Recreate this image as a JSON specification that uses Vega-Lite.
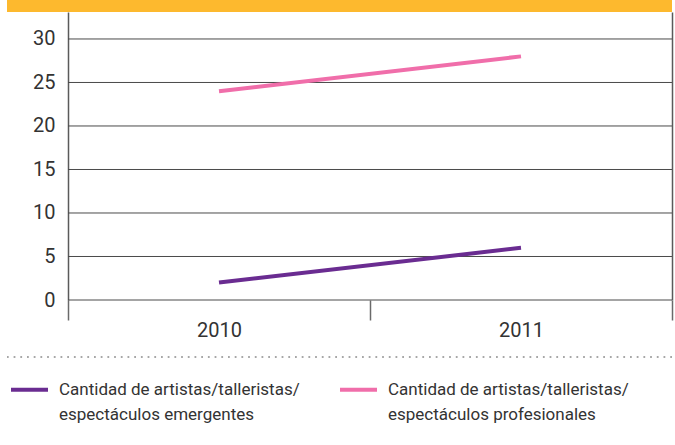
{
  "$schema": "https://vega.github.io/schema/vega-lite/v6.json",
  "width": 665,
  "height": 288,
  "autosize": {"type": "none"},
  "padding": {"left": 7, "top": 12, "right": 3, "bottom": 145},
  "background": "white",
  "config": {
    "view": {"stroke": null},
    "font": "Roboto",
    "style": {"guide-label": {"lineHeight": 25}}
  },
  "datasets": {
    "series": [
      {"year": 2010, "value": 2, "serie": "Cantidad de artistas/talleristas/espectáculos emergentes"},
      {"year": 2011, "value": 6, "serie": "Cantidad de artistas/talleristas/espectáculos emergentes"},
      {"year": 2010, "value": 24, "serie": "Cantidad de artistas/talleristas/espectáculos profesionales"},
      {"year": 2011, "value": 28, "serie": "Cantidad de artistas/talleristas/espectáculos profesionales"}
    ],
    "grid": [{"v": 0}, {"v": 5}, {"v": 10}, {"v": 15}, {"v": 20}, {"v": 25}, {"v": 30}]
  },
  "layer": [
    {
      "data": {"values": [{}]},
      "mark": {"type": "rect", "color": "#FDB92E"},
      "encoding": {
        "y": {"datum": 33.1, "type": "quantitative", "title": null},
        "y2": {"datum": 34.48}
      }
    },
    {
      "data": {"values": [{}]},
      "mark": {"type": "rule", "color": "#8a8a8a", "strokeWidth": 1.5, "strokeDash": [1.8, 4.9]},
      "encoding": {
        "y": {"datum": -6.55, "type": "quantitative", "title": null}
      }
    },
    {
      "data": {"name": "grid"},
      "mark": {"type": "rule", "color": "#4a4a4a", "strokeWidth": 1},
      "encoding": {
        "y": {"field": "v", "type": "quantitative", "title": null},
        "x": {"datum": 2009.5, "type": "quantitative", "title": null},
        "x2": {"datum": 2011.5}
      }
    },
    {
      "data": {"name": "series"},
      "mark": {"type": "line", "strokeWidth": 4},
      "encoding": {
        "x": {
          "field": "year",
          "type": "quantitative",
          "title": null,
          "scale": {"domain": [2009.298, 2011.5], "nice": false, "zero": false},
          "axis": {
            "values": [2009.5, 2010, 2010.5, 2011, 2011.5],
            "labelExpr": "datum.value == 2010 ? '2010' : (datum.value == 2011 ? '2011' : '')",
            "domain": false,
            "grid": true,
            "gridColor": "#5a5a5a",
            "gridWidth": 1.5,
            "gridOpacity": {"condition": {"test": "datum.value == 2009.5 || datum.value == 2011.5", "value": 1}, "value": 0},
            "tickSize": 20,
            "tickColor": "#6a6a6a",
            "tickWidth": 1.5,
            "tickOpacity": {"condition": {"test": "datum.value == 2010 || datum.value == 2011", "value": 0}, "value": 1},
            "labelFontSize": 20,
            "labelColor": "#333333",
            "labelPadding": 0,
            "labelFlush": false,
            "labelOverlap": false
          }
        },
        "y": {
          "field": "value",
          "type": "quantitative",
          "title": null,
          "scale": {"domain": [0, 33.1], "nice": false, "zero": false},
          "axis": {
            "values": [0, 5, 10, 15, 20, 25, 30],
            "offset": -61,
            "domain": false,
            "ticks": false,
            "grid": false,
            "labelFontSize": 20,
            "labelColor": "#333333",
            "labelPadding": 13
          }
        },
        "color": {
          "field": "serie",
          "type": "nominal",
          "scale": {"range": ["#6A2C91", "#F06EAA"]},
          "legend": {
            "title": null,
            "orient": "none",
            "legendX": 2,
            "legendY": 357,
            "direction": "horizontal",
            "columns": 2,
            "columnPadding": 32,
            "symbolType": "stroke",
            "symbolSize": 1369,
            "symbolStrokeWidth": 4,
            "labelFontSize": 17,
            "labelColor": "#333333",
            "labelOffset": 9,
            "labelLimit": 400,
            "labelExpr": "[substring(datum.label, 0, 33), substring(datum.label, 33)]"
          }
        }
      }
    }
  ]
}
